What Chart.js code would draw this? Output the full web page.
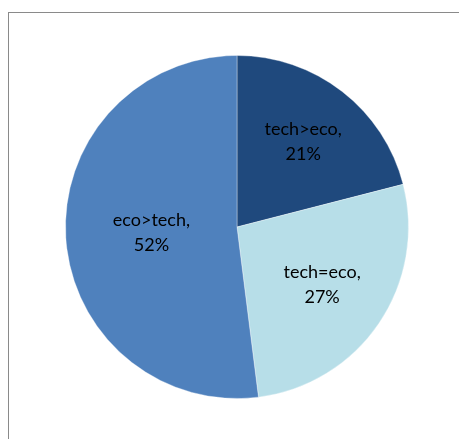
<!DOCTYPE html>
<html>
<head>
<meta charset="utf-8">
<script src="https://cdn.jsdelivr.net/npm/chart.js@4/dist/chart.umd.min.js"></script>
<style>
  html, body { margin: 0; padding: 0; background: #fff; }
  #wrap { position: relative; width: 459px; height: 439px; overflow: hidden; }
  #frame {
    position: absolute; left: 8px; top: 12px; width: 470px; height: 450px;
    border-left: 1px solid #8a8a8a; border-top: 1px solid #8a8a8a;
  }
  #output { position: absolute; left: 0; top: 0; }
</style>
</head>
<body>
<div id="wrap">
  <div id="frame"></div>
  <canvas id="output" width="459" height="439"></canvas>
</div>
<script>
const categories = ['tech>eco', 'tech=eco', 'eco>tech'];
const shares = [21, 27, 52];
const sliceColors = ['#1f497d', '#b7dee8', '#4f81bd'];

// how far out (fraction of the radius) each label sits
const labelRadius = [0.63, 0.60, 0.50];

const sliceLabels = {
    id: 'sliceLabels',
    afterDatasetsDraw(chart) {
        const ctx = chart.ctx;
        const meta = chart.getDatasetMeta(0);
        ctx.save();
        ctx.font = '18px Lato, "Open Sans", sans-serif';
        ctx.fillStyle = '#000';
        ctx.textAlign = 'center';
        ctx.textBaseline = 'middle';
        meta.data.forEach((arc, i) => {
            const mid = (arc.startAngle + arc.endAngle) / 2;
            const r = arc.outerRadius * labelRadius[i];
            const x = arc.x + Math.cos(mid) * r;
            const y = arc.y + Math.sin(mid) * r;
            ctx.fillText(categories[i] + ',', x, y - 12.5);
            ctx.fillText(shares[i] + '%', x, y + 12.5);
        });
        ctx.restore();
    }
};

const ctx = document.getElementById('output').getContext('2d');

new Chart(ctx, {
    type: 'pie',
    data: {
        labels: categories,
        datasets: [{
            data: shares,
            backgroundColor: sliceColors,
            borderColor: 'rgba(255,255,255,0.35)',
            borderWidth: 1
        }]
    },
    options: {
        responsive: false,
        animation: false,
        layout: { padding: { left: 65, right: 50, top: 55, bottom: 40 } },
        plugins: {
            legend: { display: false },
            tooltip: { enabled: false }
        }
    },
    plugins: [sliceLabels]
});
</script>
</body>
</html>
